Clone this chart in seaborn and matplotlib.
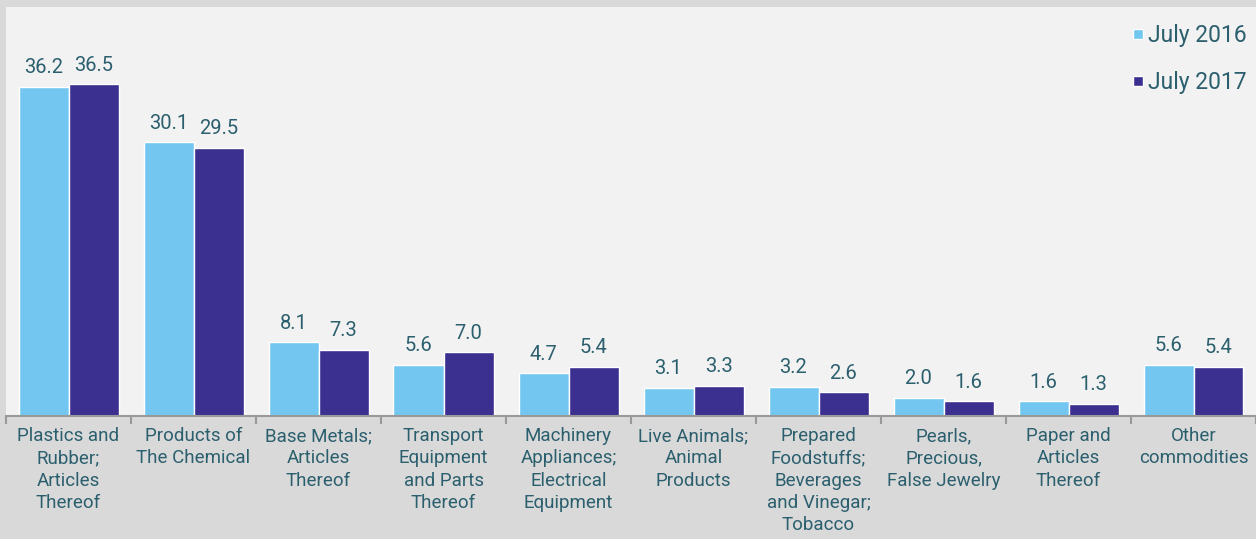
import pandas as pd
import numpy as np
import matplotlib.pyplot as plt
import seaborn as sns
from matplotlib.lines import Line2D

# Chart data
categories = [
    'Plastics and\nRubber;\nArticles\nThereof',
    'Products of\nThe Chemical',
    'Base Metals;\nArticles\nThereof',
    'Transport\nEquipment\nand Parts\nThereof',
    'Machinery\nAppliances;\nElectrical\nEquipment',
    'Live Animals;\nAnimal\nProducts',
    'Prepared\nFoodstuffs;\nBeverages\nand Vinegar;\nTobacco',
    'Pearls,\nPrecious,\nFalse Jewelry',
    'Paper and\nArticles\nThereof',
    'Other\ncommodities',
]
july_2016 = [36.2, 30.1, 8.1, 5.6, 4.7, 3.1, 3.2, 2.0, 1.6, 5.6]
july_2017 = [36.5, 29.5, 7.3, 7.0, 5.4, 3.3, 2.6, 1.6, 1.3, 5.4]
series_names = ['July 2016', 'July 2017']

TEXT = '#2b5f6e'
LIGHT = '#73c6ef'
DARK = '#3b2f8f'

df = pd.DataFrame({
    'Category': categories * 2,
    'Period': [series_names[0]] * len(categories) + [series_names[1]] * len(categories),
    'Share': july_2016 + july_2017,
})

sns.set_theme(style='white')
plt.rcParams['font.family'] = ['Roboto', 'DejaVu Sans']

fig = plt.figure(figsize=(12.56, 5.39), dpi=100, facecolor='#d9d9d9')
ax = fig.add_axes([6 / 1256, 123 / 539, 1250 / 1256, 409 / 539])
ax.set_facecolor('#f2f2f2')

sns.barplot(data=df, x='Category', y='Share', hue='Period',
            palette=[LIGHT, DARK], saturation=1, width=0.8,
            edgecolor='white', linewidth=1, ax=ax, legend=False)

for cont in ax.containers:
    ax.bar_label(cont, fmt='%.1f', padding=7, fontsize=14.5, color=TEXT)

ax.set_ylim(0, 45)
ax.set_xlim(-0.5, len(categories) - 0.5)
ax.set_xlabel('')
ax.set_ylabel('')
ax.set_yticks([])

# category labels, boundary ticks
ax.set_xticks(range(len(categories)))
ax.set_xticklabels(categories, fontsize=13.5, color=TEXT, linespacing=1.3)
ax.tick_params(axis='x', which='major', length=0, pad=8)
ax.set_xticks(np.arange(-0.5, len(categories)), minor=True)
ax.tick_params(axis='x', which='minor', length=6, width=1.5, color='#999999',
               direction='out', bottom=True)

for side in ['top', 'right', 'left']:
    ax.spines[side].set_visible(False)
ax.spines['bottom'].set_color('#999999')
ax.spines['bottom'].set_linewidth(1.5)

handles = [Line2D([0], [0], marker='s', linestyle='', markersize=7.5,
                  markerfacecolor=c, markeredgecolor='white')
           for c in [LIGHT, DARK]]
leg = ax.legend(handles, series_names, loc='upper right', frameon=False,
                fontsize=16.5, handlelength=0.5, handletextpad=0.2,
                labelspacing=1.05, bbox_to_anchor=(1.009, 1.01))
for t in leg.get_texts():
    t.set_color(TEXT)

plt.savefig('out.png', dpi=100, facecolor=fig.get_facecolor())
